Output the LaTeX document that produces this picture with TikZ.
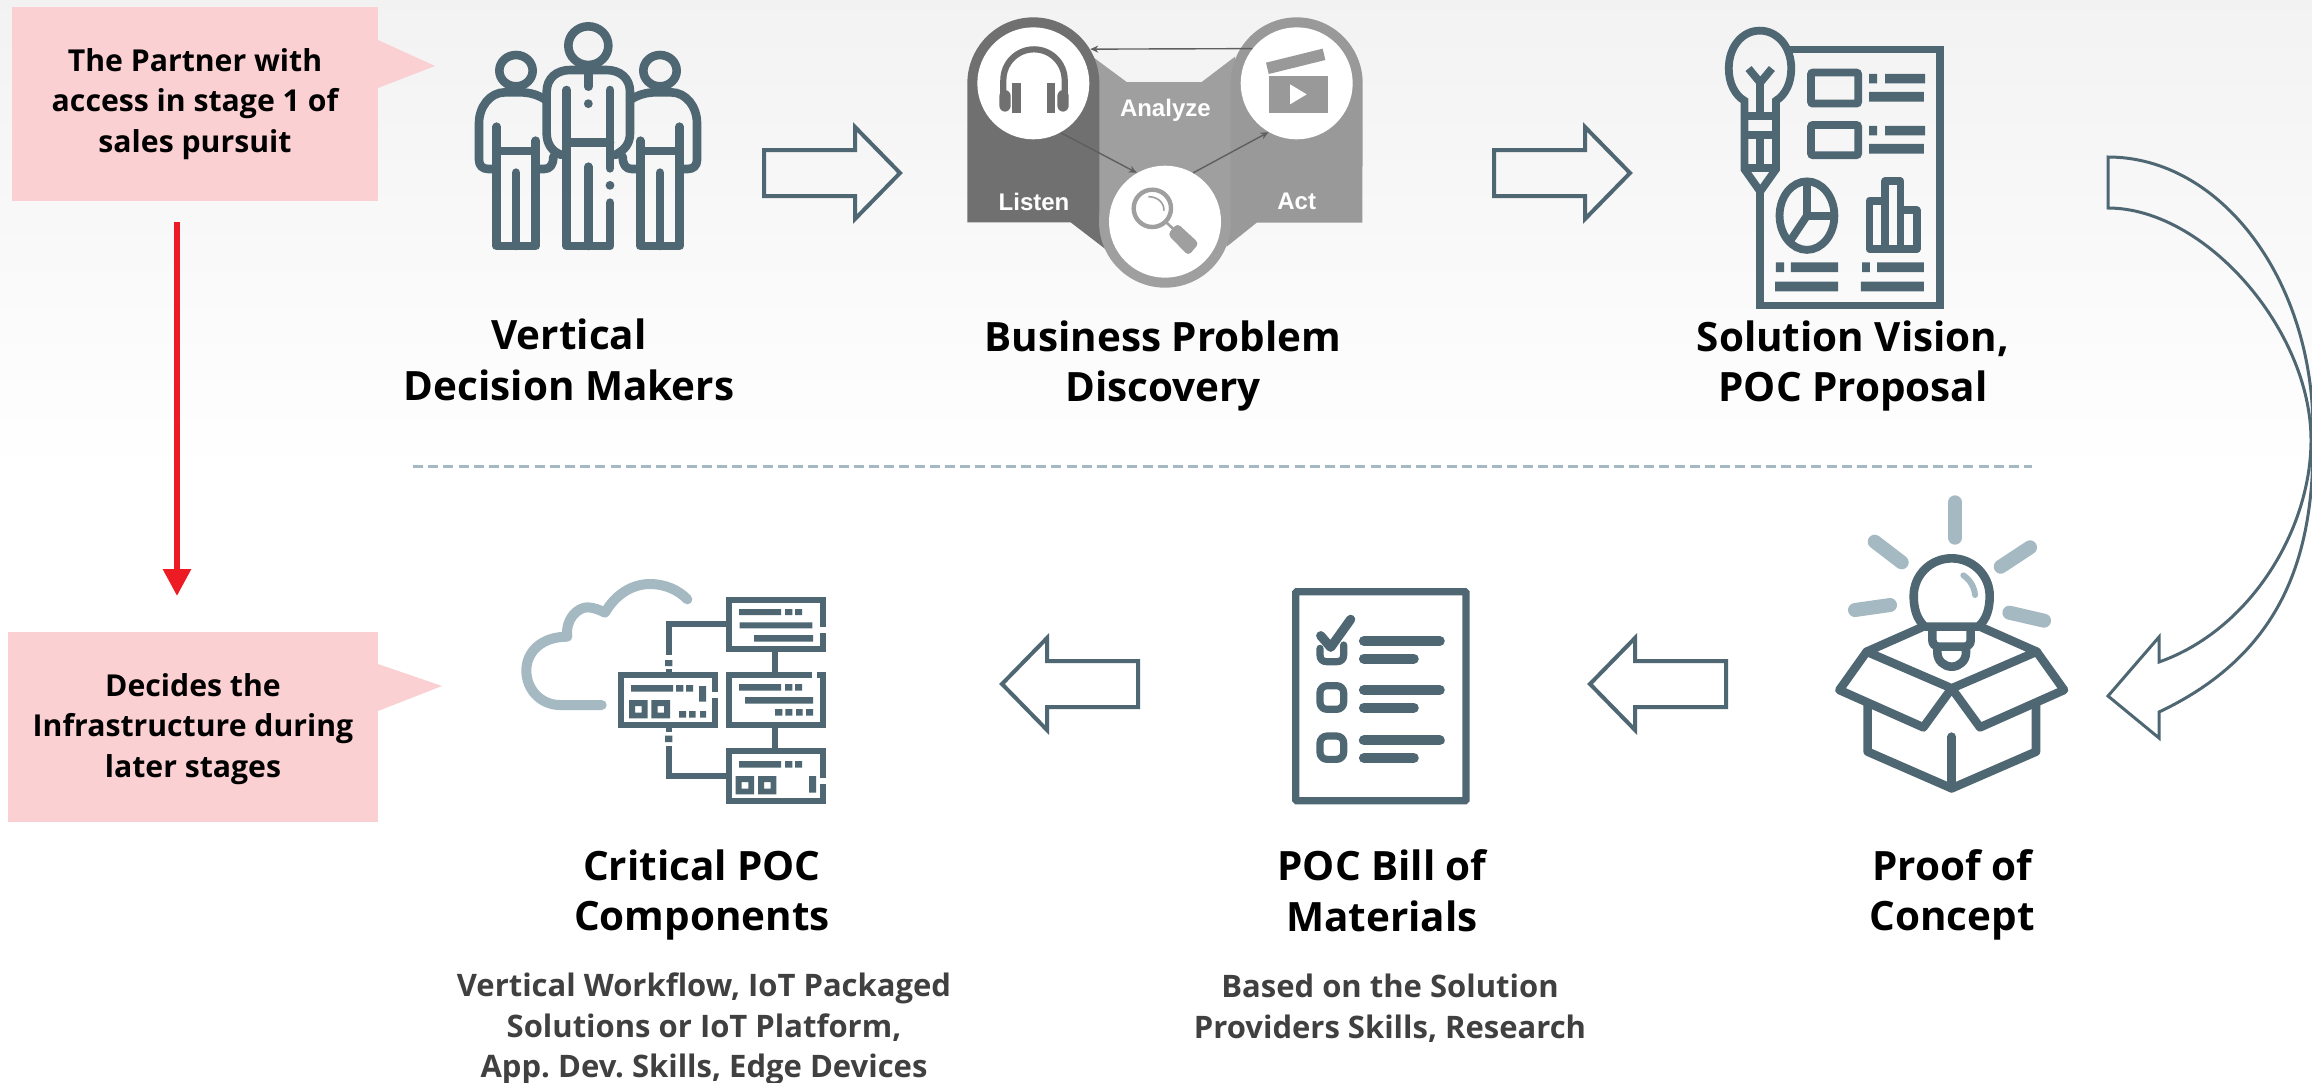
\documentclass[tikz,border=0pt]{standalone}
\usepackage{fontspec}
\setmainfont{Open Sans}
\newfontfamily\arialish{Liberation Sans}
\usetikzlibrary{arrows.meta,calc}
\definecolor{iconc}{HTML}{4F6772}
\definecolor{iconl}{HTML}{A5B9C3}
\definecolor{pinkc}{HTML}{FAD0D3}
\definecolor{redc}{HTML}{ED1C24}
\definecolor{gdark}{HTML}{707070}
\definecolor{gmid}{HTML}{9F9F9F}
\definecolor{gright}{HTML}{999999}
\definecolor{subc}{HTML}{404040}
\frenchspacing
\tikzset{
  zm/.style={x=0.16667pt,y=-0.16667pt},
  zmb/.style={x=0.20153pt,y=-0.20153pt},
  people/.style={draw=iconc,line width=4.3pt,line cap=round,line join=round},
  flat/.style={draw=iconc,line width=3.9pt,line join=miter},
  thinflat/.style={draw=iconc,line width=2.9pt,line join=miter},
  blockline/.style={draw=iconc,line width=2pt,line join=miter},
  curveline/.style={draw=iconc,line width=1.5pt,line join=miter},
  title/.style={font=\fontsize{20.2}{25.3}\selectfont\bfseries,align=center,text=black,inner sep=0pt},
  subtitle/.style={font=\fontsize{15.5}{20.3}\selectfont\bfseries,align=center,text=subc,inner sep=0pt},
  calloutbox/.style={fill=pinkc,minimum width=183pt,font=\fontsize{15.1}{20.2}\selectfont\bfseries,align=center,text=black,inner sep=0pt,draw=none},
  ringnode/.style={circle,inner sep=0pt,minimum size=66pt},
  whitenode/.style={circle,fill=white,inner sep=0pt,minimum size=56pt},
  gtext/.style={text=white,font=\arialish\fontsize{12}{13}\selectfont\bfseries,inner sep=0pt},
  thinarrow/.style={draw=gdark!85!black,line width=0.7pt,-{Stealth[length=4pt,width=3.5pt]}},
  redarrow/.style={draw=redc,line width=3pt,-{Triangle[length=13.5pt,width=13.5pt]}},
  dashline/.style={draw=iconl,line width=1.5pt,dash pattern=on 5pt off 2.6pt},
}
\def\blockarrow{\draw[blockline] (0,-23)--(91,-23)--(91,-46)--(136,0)--(91,46)--(91,23)--(0,23)--cycle;}
\def\sideman{%
  \draw[people] (228,212) ellipse [x radius=50,y radius=47];
  \draw[people] (318,300) .. controls (295,285) and (270,277) .. (240,277) -- (195,277) .. controls (150,277) and (117,320) .. (117,370) -- (117,480) .. controls (117,497) and (128,507) .. (145,507) -- (170,507);
  \draw[people] (170,380) -- (170,738) -- (287,738) -- (287,422);
  \draw[people] (170,453) -- (287,453);
  \draw[people] (228,518) -- (228,738);
  \draw[people] (290,507) -- (312,507) .. controls (330,507) and (340,495) .. (340,470);
}
\begin{document}
\begin{tikzpicture}[x=0.5pt,y=-0.5pt]
\useasboundingbox (0,0) rectangle (2312,1082);
\fill[white] (0,0) rectangle (2312,1082);
\shade[top color=black!5,bottom color=white,draw=none] (0,0) rectangle (2312,475);

% callouts
\fill[pinkc] (378,40) -- (435,66) -- (378,88) -- cycle;
\fill[pinkc] (378,664) -- (442,686) -- (378,711) -- cycle;
\fill[pinkc] (12,7) rectangle (378,201);
\fill[pinkc] (8,632) rectangle (378,822);
\node[calloutbox,minimum width=0pt,fill=none] (partner) at (195,104) {The Partner with\\access in stage 1 of\\sales pursuit};
\node[calloutbox,minimum width=0pt,fill=none] (decides) at (193,729) {Decides the\\Infrastructure during\\later stages};
\coordinate (redstart) at (177,222);
\coordinate (redend) at (177,596);
\draw[redarrow] (redstart) -- (redend);

% people icon
\begin{scope}[shift={(440,0)},zm]
  \draw[people] (445,137) ellipse [x radius=60,y radius=58];
  \draw[people] (365,465) .. controls (335,455) and (320,430) .. (320,400) -- (320,275) .. controls (320,235) and (350,210) .. (390,210) -- (500,210) .. controls (540,210) and (570,235) .. (570,275) -- (570,400) .. controls (570,430) and (555,450) .. (525,465);
  \draw[people] (445,222) -- (445,260);
  \fill[iconc] (445,311) circle [radius=2.2pt];
  \fill[iconc] (510,556) circle [radius=2.2pt];
  \draw[people] (380,270) -- (380,738) -- (510,738) -- (510,608);
  \draw[people] (510,270) -- (510,505);
  \draw[people] (380,427) -- (510,427);
  \draw[people] (445,500) -- (445,738);
  \sideman
  \begin{scope}[shift={(888,0)},xscale=-1]
    \sideman
  \end{scope}
\end{scope}

% block arrows
\begin{scope}[shift={(764,173)}]\blockarrow\end{scope}
\begin{scope}[shift={(1494,173)}]\blockarrow\end{scope}
\begin{scope}[shift={(1726,684)},xscale=-1]\blockarrow\end{scope}
\begin{scope}[shift={(1138,684)},xscale=-1]\blockarrow\end{scope}

% curved arrow
\draw[curveline] (2108,157) .. controls (2221,157) and (2313,280) .. (2313,430) .. controls (2315,545) and (2290,650) .. (2159,712) -- (2159,738) -- (2108,696) -- (2159,637) -- (2159,662) .. controls (2250,630) and (2311,530) .. (2311,440) .. controls (2311,330) and (2205,208) .. (2108,208) -- cycle;

% discovery graphic
\begin{scope}[shift={(940,0)},zm]
  \fill[gmid] (460,172) -- (560,246) -- (785,246) -- (885,170) -- (875,665) -- (478,665) -- cycle;
  \fill[gdark] (82,250) arc [start angle=180,end angle=360,radius=198] -- (478,665) -- (500,750) -- (392,667) -- (82,667) -- cycle;
  \fill[gright] (872,250) arc [start angle=180,end angle=360,radius=198] -- (1267,668) -- (950,668) -- (860,740) -- (850,665) -- (872,665) -- cycle;
  \fill[gmid] (675,665) circle [radius=33pt];
  \node[ringnode] (listenring) at (280,250) {};
  \node[whitenode] (listen) at (280,250) {};
  \node[whitenode] (act) at (1070,250) {};
  \node[whitenode] (lens) at (675,665) {};
  % headphones
  \draw[gdark,line width=3.1pt] (190,285) -- (190,240) arc [start angle=180,end angle=360,radius=92] -- (374,285);
  \fill[gdark,rounded corners=3pt] (178,270) rectangle (212,335);
  \fill[gdark,rounded corners=3pt] (352,270) rectangle (386,335);
  \fill[gdark] (217,250) rectangle (242,340);
  \fill[gdark] (322,250) rectangle (345,340);
  % clapper
  \fill[gright] (978,188) -- (1148,146) -- (1156,180) -- (986,222) -- cycle;
  \fill[gright] (987,227) rectangle (1163,340);
  \fill[white] (1050,253) -- (1100,283) -- (1050,313) -- cycle;
  % magnifier
  \draw[gmid,line width=2.2pt] (637,625) circle [radius=56];
  \draw[gmid,line width=0.8pt] (625,590) .. controls (650,590) and (672,605) .. (672,632);
  \draw[gmid,line width=1.3pt] (680,668) -- (705,692);
  \fill[gmid,rounded corners=2pt] (712,670) -- (777,730) -- (745,767) -- (683,703) -- cycle;
  \node[gtext] (analyzetxt) at (676,330) {Analyze};
  \node[gtext] (listentxt) at (282,605) {Listen};
  \node[gtext] (acttxt) at (1070,605) {Act};
  \draw[thinarrow] (act.142) -- (listenring.31);
  \draw[thinarrow] (listen.-61) -- (lens.120);
  \draw[thinarrow] (lens.60) -- (act.240);
\end{scope}

% solution vision icon
\begin{scope}[shift={(1680,0)},zmb]
  \draw[flat] (272,123) -- (645,123) -- (645,758) -- (199,758) -- (199,470);
  \draw[flat] (160,295) -- (160,250) .. controls (135,235) and (121,205) .. (121,170) .. controls (121,115) and (155,76) .. (198,76) .. controls (241,76) and (276,115) .. (276,170) .. controls (276,205) and (262,235) .. (238,250) -- (238,420) -- (199,475) -- (160,420) -- (160,250);
  \draw[flat] (160,287) -- (238,287);
  \draw[flat] (160,335) -- (238,335);
  \draw[flat] (160,417) -- (238,417);
  \draw[flat] (199,207) -- (199,287);
  \draw[flat] (199,335) -- (199,417);
  \draw[flat] (170,170) -- (199,205) -- (228,170);
  \draw[flat,rounded corners=1pt] (325,180) rectangle (442,257);
  \draw[flat,rounded corners=1pt] (325,310) rectangle (442,385);
  \fill[iconc] (469,183) rectangle (489,207) (509,183) rectangle (608,207) (469,228) rectangle (605,252);
  \fill[iconc] (469,312) rectangle (489,336) (509,312) rectangle (608,336) (469,357) rectangle (605,381);
  \draw[flat] (315,535) ellipse [x radius=68,y radius=85];
  \draw[flat] (315,455) -- (315,535) -- (380,535);
  \draw[flat] (315,535) -- (275,595);
  \draw[flat,line join=round] (509,618) -- (509,450) -- (547,450) -- (547,618);
  \draw[flat,line join=round] (509,498) -- (470,498) -- (470,618) -- (587,618) -- (587,522) -- (547,522);
  \fill[iconc] (238,651) rectangle (258,675) (275,651) rectangle (392,675) (236,699) rectangle (392,723);
  \fill[iconc] (452,651) rectangle (471,675) (489,651) rectangle (605,675) (449,699) rectangle (605,723);
\end{scope}

% proof of concept icon
\begin{scope}[shift={(1800,470)},zm]
  \draw[iconl,line width=7pt,line cap=round] (465,97) -- (465,203);
  \draw[iconl,line width=7pt,line cap=round] (224,215) -- (305,277);
  \draw[iconl,line width=7pt,line cap=round] (690,232) -- (602,290);
  \draw[iconl,line width=7pt,line cap=round] (165,420) -- (270,405);
  \draw[iconl,line width=7pt,line cap=round] (628,428) -- (732,452);
  \draw[iconl,line width=3pt,line cap=round] (490,316) .. controls (510,330) and (523,350) .. (525,375);
  \draw[people] (375,470) .. controls (350,448) and (341,415) .. (341,378) .. controls (341,315) and (392,265) .. (455,265) .. controls (518,265) and (569,315) .. (569,378) .. controls (569,415) and (560,448) .. (535,470) -- cycle;
  \draw[people] (397,476) -- (397,510) .. controls (397,522) and (405,528) .. (412,530) -- (498,530) .. controls (505,528) and (512,522) .. (512,510) -- (512,476);
  \draw[people] (412,530) -- (412,548) .. controls (412,572) and (432,590) .. (455,590) .. controls (478,590) and (498,572) .. (498,548) -- (498,530);
  \draw[people] (365,472) -- (200,545) -- (455,655) -- (710,545) -- (545,472);
  \draw[people] (200,545) -- (118,660) -- (370,772) -- (455,655) -- (540,772) -- (792,660) -- (710,545);
  \draw[people] (203,705) -- (203,845) -- (455,955) -- (708,845) -- (708,705);
  \draw[people] (455,800) -- (455,955);
\end{scope}

% checklist icon
\begin{scope}[shift={(1230,570)},zm]
  \draw[flat,line width=3.6pt,rounded corners=0.5pt] (197,65) rectangle (708,692);
  \draw[people,line width=3.6pt] (270,235) -- (270,255) .. controls (270,268) and (278,275) .. (290,275) -- (320,275) .. controls (333,275) and (341,268) .. (341,255) -- (341,225);
  \draw[people,line width=4.6pt] (272,197) -- (302,232) -- (362,148);
  \draw[people,line width=3.6pt,rounded corners=3.5pt] (270,347) rectangle (341,418);
  \draw[people,line width=3.6pt,rounded corners=3.5pt] (270,498) rectangle (341,568);
  \draw[people,line width=5.1pt] (402,213) -- (629,213) (402,266) -- (551,266) (402,360) -- (629,360) (402,413) -- (551,413) (402,511) -- (629,511) (402,564) -- (551,564);
\end{scope}

% infrastructure icon
\begin{scope}[shift={(500,560)},zm]
  \draw[iconl,line width=5pt,line cap=round,line join=round] (305,435) -- (180,435) .. controls (122,435) and (79,388) .. (79,332) .. controls (79,275) and (125,230) .. (202,230) .. controls (195,175) and (235,142) .. (262,142) .. controls (280,142) and (300,150) .. (315,158) .. controls (345,105) and (395,72) .. (450,72) .. controls (495,72) and (535,90) .. (562,118);
  \draw[thinflat] (968,200) -- (968,120) -- (686,120) -- (686,268) -- (968,268) -- (968,218);
  \fill[iconc] (717,147) rectangle (843,165) (855,147) rectangle (877,165) (885,147) rectangle (906,165) (719,187) rectangle (937,205) (762,225) rectangle (939,245);
  \draw[thinflat] (935,346) -- (686,346) -- (686,495) -- (968,495) -- (968,346) -- (952,346);
  \fill[iconc] (717,372) rectangle (843,392) (855,372) rectangle (877,392) (885,372) rectangle (906,392) (735,411) rectangle (939,431) (825,447) rectangle (847,467) (856,447) rectangle (877,467) (888,447) rectangle (908,467) (918,447) rectangle (939,467);
  \draw[thinflat] (968,655) -- (968,574) -- (686,574) -- (686,723) -- (968,723) -- (968,672);
  \fill[iconc] (717,603) rectangle (843,623) (855,603) rectangle (877,623) (885,603) rectangle (906,623) (927,648) rectangle (948,698);
  \fill[iconc,even odd rule] (707,648) rectangle (762,703) (725,666) rectangle (745,686) (774,648) rectangle (829,703) (792,666) rectangle (812,686);
  \draw[thinflat] (645,397) -- (645,346) -- (363,346) -- (363,495) -- (645,495) -- (645,413);
  \fill[iconc] (393,375) rectangle (519,395) (528,375) rectangle (550,395) (558,375) rectangle (579,395) (597,378) rectangle (618,425) (537,453) rectangle (558,473) (567,453) rectangle (587,473) (600,453) rectangle (618,473);
  \fill[iconc,even odd rule] (387,420) rectangle (443,475) (405,438) rectangle (425,458) (454,420) rectangle (510,475) (473,438) rectangle (492,458);
  \draw[thinflat] (825,268) -- (825,346) (825,495) -- (825,574);
  \draw[thinflat] (686,193) -- (506,193) -- (506,285) (506,328) -- (506,346) (506,495) -- (506,515) (506,558) -- (506,648) -- (686,648);
  \fill[iconc] (495,300) rectangle (517,318) (495,527) rectangle (517,546);
\end{scope}

% separator
\coordinate (sepleft) at (413,466);
\coordinate (sepright) at (2032,466);
\draw[dashline] (sepleft) -- (sepright);

% titles
\node[title] (t1) at (569,360) {Vertical\\Decision Makers};
\node[title] (t2) at (1163,366) {Business Problem\\Discovery};
\node[title] (t3) at (1853,366) {Solution Vision,\\POC Proposal};
\node[title] (t4) at (702,895) {Critical POC\\Components};
\node[title] (t5) at (1382,891) {POC Bill of\\Materials};
\node[title] (t6) at (1952,895) {Proof of\\Concept};
\node[subtitle] (s4) at (704,1029) {Vertical Workflow, IoT Packaged\\Solutions or IoT Platform,\\App. Dev. Skills, Edge Devices};
\node[subtitle] (s5) at (1390,1008) {Based on the Solution\\Providers Skills, Research};
\end{tikzpicture}
\end{document}
